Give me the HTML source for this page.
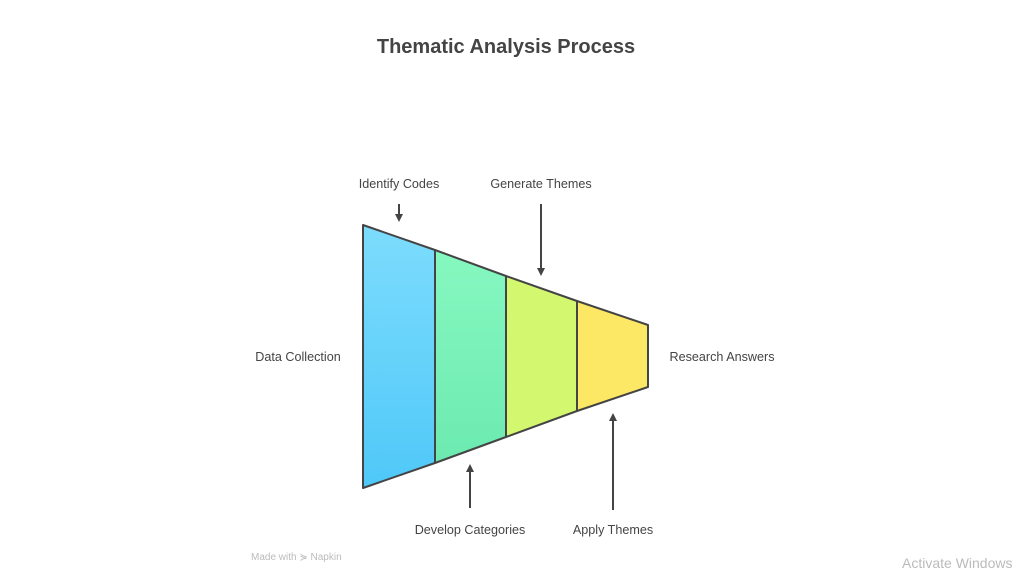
<!DOCTYPE html>
<html><head><style>
body{margin:0;width:1024px;height:569px;background:#fff;overflow:hidden;font-family:"Liberation Sans",sans-serif;}
</style></head><body>
<svg width="1024" height="569" xmlns="http://www.w3.org/2000/svg" style="position:absolute;left:0;top:0">
<defs>
<linearGradient id="g1" x1="0" y1="0" x2="0" y2="1"><stop offset="0" stop-color="#7ddcfd"/><stop offset="1" stop-color="#4fc8f8"/></linearGradient>
<linearGradient id="g2" x1="0" y1="0" x2="0" y2="1"><stop offset="0" stop-color="#86f8c0"/><stop offset="1" stop-color="#6ceab0"/></linearGradient>
<marker id="a" markerWidth="8" markerHeight="8" refX="4" refY="4" orient="auto" markerUnits="userSpaceOnUse"><path d="M0,0 L8,4 L0,8 z" fill="#444"/></marker>
</defs>
<text x="506" y="53" text-anchor="middle" font-size="20" font-weight="bold" fill="#444">Thematic Analysis Process</text>
<g stroke="#444" stroke-width="2" stroke-linejoin="round">
<polygon points="363,225 435,250 435,463 363,488" fill="url(#g1)"/>
<polygon points="435,250 506,276 506,437 435,463" fill="url(#g2)"/>
<polygon points="506,276 577,301 577,411 506,437" fill="#d3f870"/>
<polygon points="577,301 648,325 648,387 577,411" fill="#fde865"/>
</g>
<g stroke="#444" stroke-width="2">
<line x1="399" y1="204" x2="399" y2="218" marker-end="url(#a)"/>
<line x1="541" y1="204" x2="541" y2="272" marker-end="url(#a)"/>
<line x1="470" y1="508" x2="470" y2="468" marker-end="url(#a)"/>
<line x1="613" y1="510" x2="613" y2="417" marker-end="url(#a)"/>
</g>
<g font-size="12.6" fill="#444">
<text x="399" y="188" text-anchor="middle">Identify Codes</text>
<text x="541" y="188" text-anchor="middle">Generate Themes</text>
<text x="298" y="361" text-anchor="middle">Data Collection</text>
<text x="722" y="361" text-anchor="middle">Research Answers</text>
<text x="470" y="534" text-anchor="middle">Develop Categories</text>
<text x="613" y="534" text-anchor="middle">Apply Themes</text>
</g>
<text x="251" y="560" font-size="10" fill="#bbb">Made with ⋟ Napkin</text>
<text x="902" y="568" font-size="14" fill="#bbb">Activate Windows</text>
</svg>
</body></html>
